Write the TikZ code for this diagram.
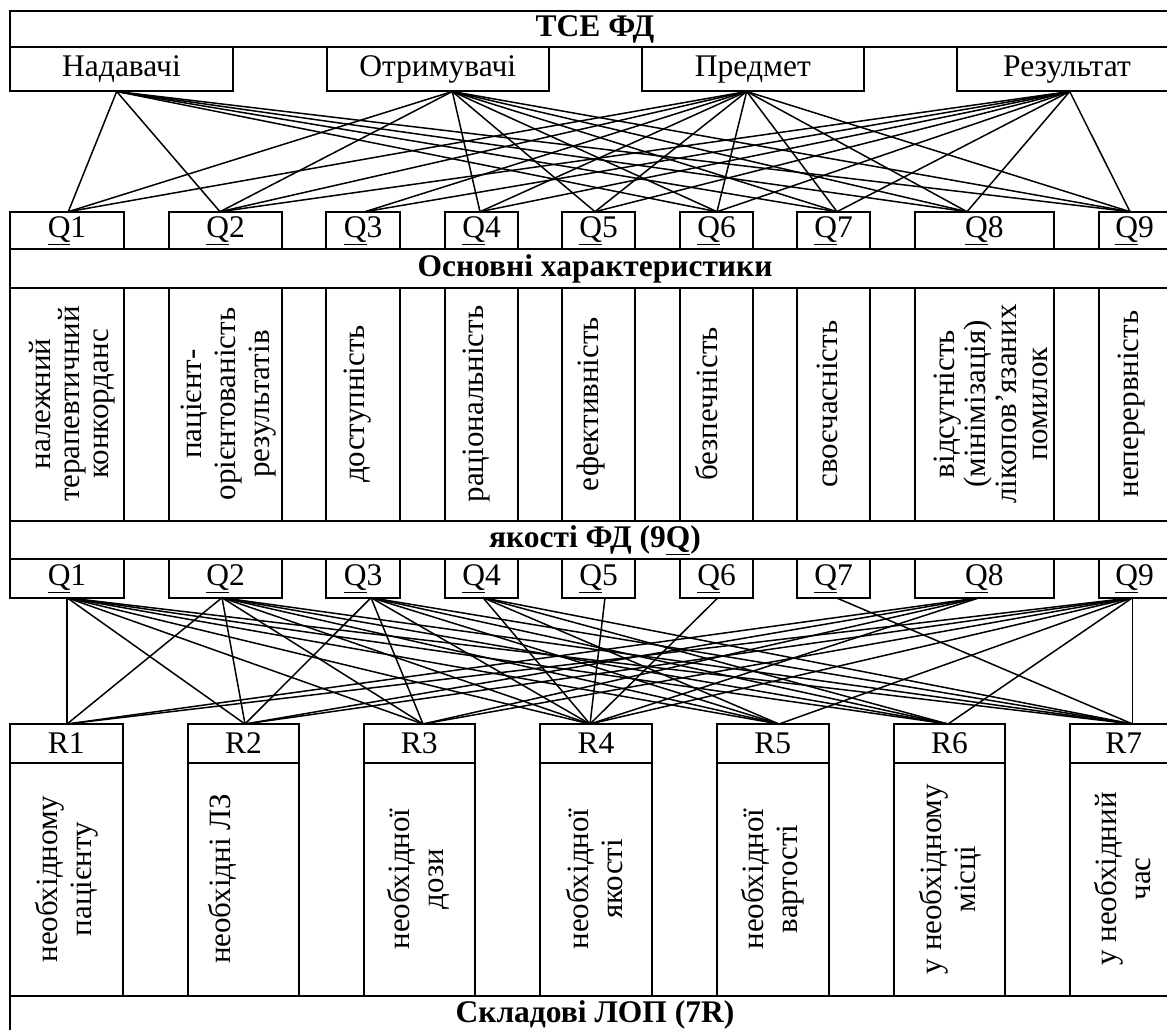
\documentclass[tikz,border=0pt]{standalone}
\usepackage{fontspec}
\setmainfont{Liberation Serif}
\begin{document}
\begin{tikzpicture}[x=1pt,y=-1pt,
  every node/.style={font=\fontsize{31.5}{31.5}\selectfont},
  cell/.style={draw, line width=2pt, inner sep=0pt, outer sep=0pt, anchor=north west},
  bld/.style={font=\fontsize{31.5}{31.5}\selectfont\bfseries},
  rot/.style={rotate=90, align=center, inner sep=0pt},
  conn/.style={line width=1.5pt},
  gridline/.style={line width=2pt}]
\useasboundingbox (0,0) rectangle (1167,1030);
\fill[white] (0,0) rectangle (1167,1030);
\clip (0,0) rectangle (1167,1030);

% ---- top title and four elements
\node[cell, bld, minimum width=1170pt, minimum height=36.5pt] (title) at (10,11) {ТСЕ ФД};
\node[cell, minimum width=223pt, minimum height=44pt] (nad) at (10,47.5) {Надавачі};
\node[cell, minimum width=222.5pt, minimum height=44pt] (otr) at (326.5,47.5) {Отримувачі};
\node[cell, minimum width=222.3pt, minimum height=44pt] (pred) at (641.7,47.5) {Предмет};
\node[cell, minimum width=220pt, minimum height=44pt] (rez) at (957,47.5) {Результат};

% ---- Q row 1
\foreach \n/\x/\w in {1/10/114, 2/169/113, 3/326/74, 4/445/73, 5/562/73, 6/680/73, 7/797/73, 8/914.7/139.3, 9/1099/71}
  \node[cell, minimum width=\w pt, minimum height=37.6pt] (qa\n) at (\x,211.7) {\underline{Q}\n};

\node[cell, bld, minimum width=1170pt, minimum height=39pt] (band1) at (10,249.3) {Основні характеристики};
\foreach \x in {10,124,169,282,326,400,445,518,562,635,680,753,797,870,914.7,1054,1099,1170}
  \draw[gridline] (\x,288.3) -- (\x,521);
\node[cell, bld, minimum width=1170pt, minimum height=38pt] (band2) at (10,521) {якості ФД (9\underline{Q})};

% ---- Q row 2
\foreach \n/\x/\w in {1/10/114, 2/169/113, 3/326/74, 4/445/73, 5/562/73, 6/680/73, 7/797/73, 8/914.7/139.3, 9/1099/71}
  \node[cell, minimum width=\w pt, minimum height=38.7pt] (qb\n) at (\x,559) {\underline{Q}\n};

% ---- characteristics (rotated)
\node[rot, font=\fontsize{31}{29}\selectfont] (c1) at (72,404) {належний\\терапевтичний\\конкорданс};
\node[rot, font=\fontsize{31}{34}\selectfont] (c2) at (229,404) {пацієнт-\\орієнтованість\\результатів};
\node[rot, font=\fontsize{31}{31}\selectfont] (c3) at (358,404) {доступність};
\node[rot, font=\fontsize{31}{31}\selectfont] (c4) at (476.5,404) {раціональність};
\node[rot, font=\fontsize{31}{31}\selectfont] (c5) at (591,404) {ефективність};
\node[rot, font=\fontsize{31}{31}\selectfont] (c6) at (706.7,404) {безпечність};
\node[rot, font=\fontsize{31}{31}\selectfont] (c7) at (827,404) {своєчасність};
\node[rot, font=\fontsize{31}{31}\selectfont] (c8) at (991,404) {відсутність\\(мінімізація)\\лікопов’язаних\\помилок};
\node[rot, font=\fontsize{31}{31}\selectfont] (c9) at (1131.5,404) {неперервність};

% ---- R row
\foreach \n/\x/\w in {1/10/112.5, 2/188/111, 3/363.5/111.5, 4/540/112, 5/716.6/112.4, 6/894/111, 7/1069.5/108.5}{
  \node[cell, minimum width=\w pt, minimum height=38.7pt] (r\n) at (\x,724) {R\n};
  \node[cell, minimum width=\w pt, minimum height=233pt] (rb\n) at (\x,762.7) {};
}
\node[rot, font=\fontsize{31}{34}\selectfont] (t1) at (67,879) {необхідному\\пацієнту};
\node[rot, font=\fontsize{31}{34}\selectfont] (t2) at (222,879) {необхідні ЛЗ};
\node[rot, font=\fontsize{31}{34}\selectfont] (t3) at (418,879) {необхідної\\дози};
\node[rot, font=\fontsize{31}{34}\selectfont] (t4) at (594.5,879) {необхідної\\якості};
\node[rot, font=\fontsize{31}{34}\selectfont] (t5) at (773,879) {необхідної\\вартості};
\node[rot, font=\fontsize{31}{34}\selectfont] (t6) at (950,879) {у необхідному\\місці};
\node[rot, font=\fontsize{31}{34}\selectfont] (t7) at (1123,879) {у необхідний\\час};
\node[cell, bld, minimum width=1170pt, minimum height=38pt] (band3) at (10,995.7) {Складові ЛОП (7R)};

% ---- connection points
\coordinate (nadB) at (116.7,91.5);
\coordinate (otrB) at (452.3,91.5);
\coordinate (predB) at (746.7,91.5);
\coordinate (rezB) at (1069.7,91.5);
\foreach \n/\x in {1/68.3, 2/220, 3/365, 4/480, 5/595, 6/717, 7/837, 8/967, 9/1130}
  \coordinate (qaT\n) at (\x,211.7);
\foreach \n/\x in {1/67, 2/222, 3/371, 4/483, 5/605, 6/718, 7/836, 8/979.5, 9/1132.6}
  \coordinate (qbB\n) at (\x,597.7);
\foreach \n/\x in {1/67, 2/245, 3/423, 4/590, 5/779, 6/948, 7/1132.6}
  \coordinate (rT\n) at (\x,724);

% ---- top connectors
\foreach \q in {1,2,6,7,8,9} \draw[conn] (nadB) -- (qaT\q);
\foreach \q in {1,2,4,5,6,7,8,9} \draw[conn] (otrB) -- (qaT\q);
\foreach \q in {1,2,3,4,5,6,7,8,9} \draw[conn] (predB) -- (qaT\q);
\foreach \q in {2,3,4,5,6,7,8,9} \draw[conn] (rezB) -- (qaT\q);

% ---- bottom connectors
\foreach \r in {1,2,3,4,5,6,7} \draw[conn] (qbB1) -- (rT\r);
\foreach \r in {1,2,3,4,5,6,7} \draw[conn] (qbB2) -- (rT\r);
\foreach \r in {2,3,4,5,6,7} \draw[conn] (qbB3) -- (rT\r);
\foreach \r in {4,5,6,7} \draw[conn] (qbB4) -- (rT\r);
\draw[conn] (qbB5) -- (rT4);
\draw[conn] (qbB6) -- (rT4);
\draw[conn] (qbB7) -- (rT7);
\foreach \r in {1,2,3,4} \draw[conn] (qbB8) -- (rT\r);
\foreach \r in {1,2,3,4,5,6,7} \draw[conn] (qbB9) -- (rT\r);
\end{tikzpicture}
\end{document}
